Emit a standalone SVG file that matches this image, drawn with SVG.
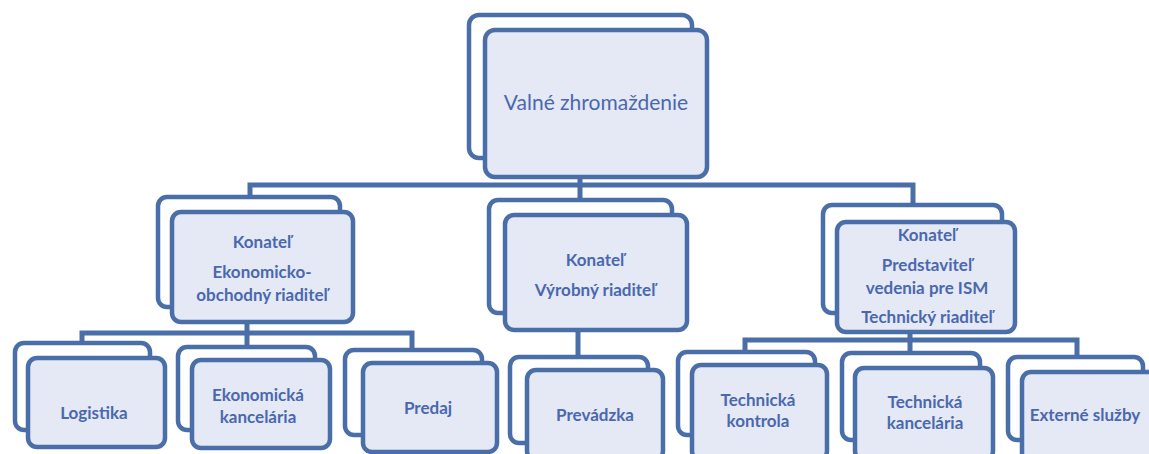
<svg xmlns="http://www.w3.org/2000/svg" width="1149" height="454" viewBox="0 0 1149 454">
<style>
.bk{fill:#ffffff;stroke:#4a6ea8;stroke-width:4.5}
.fr{fill:#e5e8f5;stroke:#4a6ea8;stroke-width:4.5}
.ln{fill:none;stroke:#4a6ea8;stroke-width:5;stroke-linejoin:miter}
text{font-family:Lato,"Open Sans","Liberation Sans",sans-serif;fill:#4a68ad;text-anchor:middle;font-weight:bold}
.big{font-size:21px;font-weight:normal}
.t{font-size:17px}
</style>
<rect width="1149" height="454" fill="#ffffff"/>
<g id="connectors">
<path class="ln" d="M580 177 V200 M250 197 V185 H913 V205"/>
<path class="ln" d="M247 322 V333 M82 343 V333 H412 V350 M247 333 V347"/>
<path class="ln" d="M578 330 V357"/>
<path class="ln" d="M910 332 V353 M745 352 V340 H1077 V357"/>
</g>
<g id="n-valne">
<rect class="bk" x="469" y="15" width="223" height="143" rx="10"/>
<rect class="fr" x="485" y="30" width="222" height="147" rx="10"/>
<text class="big" x="596" y="110">Valné zhromaždenie</text>
</g>
<g id="n-ekonom">
<rect class="bk" x="158" y="197" width="182" height="110" rx="9"/>
<rect class="fr" x="172" y="212" width="181" height="110" rx="9"/>
<text class="t" x="262" y="248">Konateľ</text>
<text class="t" x="262" y="278">Ekonomicko-</text>
<text class="t" x="262" y="301">obchodný riaditeľ</text>
</g>
<g id="n-vyrob">
<rect class="bk" x="489" y="200" width="183" height="113" rx="9"/>
<rect class="fr" x="505" y="215" width="182" height="115" rx="9"/>
<text class="t" x="595" y="266">Konateľ</text>
<text class="t" x="595" y="296">Výrobný riaditeľ</text>
</g>
<g id="n-tech">
<rect class="bk" x="823" y="205" width="179" height="108" rx="9"/>
<rect class="fr" x="837" y="222" width="178" height="110" rx="9"/>
<text class="t" x="927" y="241">Konateľ</text>
<text class="t" x="927" y="271">Predstaviteľ</text>
<text class="t" x="927" y="294">vedenia pre ISM</text>
<text class="t" x="927" y="323">Technický riaditeľ</text>
</g>
<g id="n-logistika">
<rect class="bk" x="15" y="343" width="135" height="87" rx="9"/>
<rect class="fr" x="28" y="358" width="137" height="89" rx="9"/>
<text class="t" x="94" y="419">Logistika</text>
</g>
<g id="n-ekkanc">
<rect class="bk" x="178" y="347" width="137" height="83" rx="9"/>
<rect class="fr" x="192" y="360" width="138" height="88" rx="9"/>
<text class="t" x="258" y="401">Ekonomická</text>
<text class="t" x="258" y="423">kancelária</text>
</g>
<g id="n-predaj">
<rect class="bk" x="345" y="350" width="137" height="85" rx="9"/>
<rect class="fr" x="363" y="363" width="134" height="89" rx="9"/>
<text class="t" x="428" y="414">Predaj</text>
</g>
<g id="n-prevadzka">
<rect class="bk" x="510" y="357" width="138" height="86" rx="9"/>
<rect class="fr" x="527" y="370" width="136" height="90" rx="9"/>
<text class="t" x="595" y="421">Prevádzka</text>
</g>
<g id="n-tkontrola">
<rect class="bk" x="678" y="352" width="137" height="83" rx="9"/>
<rect class="fr" x="692" y="365" width="135" height="95" rx="9"/>
<text class="t" x="758" y="406">Technická</text>
<text class="t" x="758" y="427">kontrola</text>
</g>
<g id="n-tkanc">
<rect class="bk" x="842" y="353" width="138" height="87" rx="9"/>
<rect class="fr" x="855" y="368" width="138" height="92" rx="9"/>
<text class="t" x="925" y="408">Technická</text>
<text class="t" x="925" y="429">kancelária</text>
</g>
<g id="n-externe">
<rect class="bk" x="1008" y="357" width="135" height="83" rx="9"/>
<rect class="fr" x="1022" y="372" width="140" height="90" rx="9"/>
<text class="t" x="1085" y="421">Externé služby</text>
</g>
</svg>
